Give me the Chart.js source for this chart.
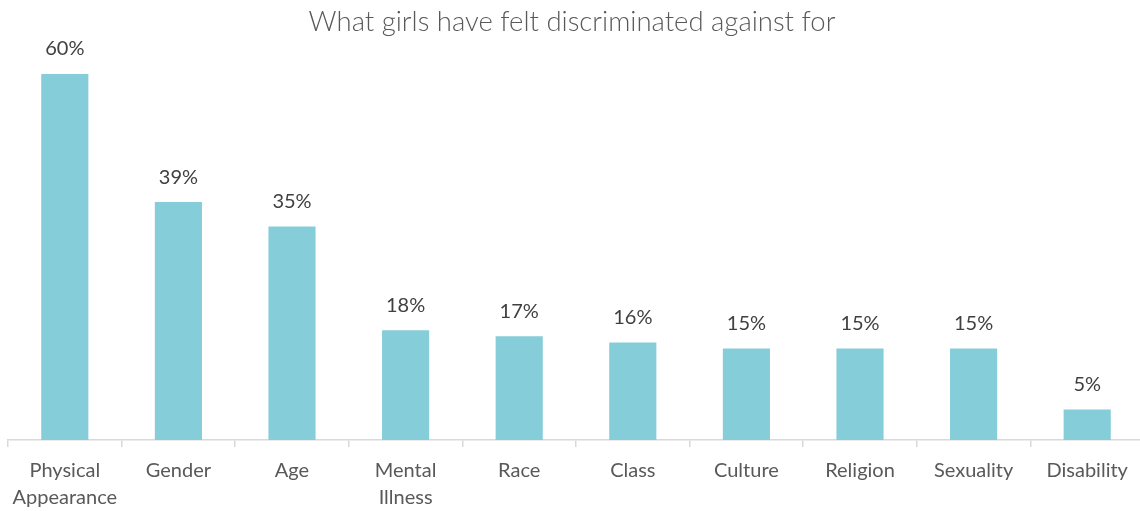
<!DOCTYPE html>
<html>
<head>
<meta charset="utf-8">
<script src="https://cdn.jsdelivr.net/npm/chart.js@4/dist/chart.umd.min.js"></script>
<style>
  html, body { margin: 0; padding: 0; background: #ffffff; overflow: hidden; }
  #wrap { width: 1140px; height: 511px; position: relative; overflow: hidden; }
</style>
</head>
<body>
<div id="wrap"><canvas id="c" width="1144" height="511"></canvas></div>
<script>
const chartTitle = 'What girls have felt discriminated against for';
const categories = [
  ['Physical', 'Appearance'], 'Gender', 'Age', ['Mental', 'Illness'], 'Race',
  'Class', 'Culture', 'Religion', 'Sexuality', 'Disability'
];
const percentages = [60, 39, 35, 18, 17, 16, 15, 15, 15, 5];
const yAxisMax = 70;

const FONT = 'Lato, "Open Sans", "DejaVu Sans", sans-serif';

// Title and value labels drawn on the canvas
const annotate = {
  id: 'annotate',
  afterDatasetsDraw(chart) {
    const ctx = chart.ctx;
    ctx.save();
    ctx.fillStyle = '#404040';
    ctx.font = '20px ' + FONT;
    ctx.textAlign = 'center';
    ctx.textBaseline = 'middle';
    const meta = chart.getDatasetMeta(0);
    meta.data.forEach((bar, i) => {
      ctx.fillText(percentages[i] + '%', bar.x, bar.y - 25);
    });
    ctx.fillStyle = '#595959';
    ctx.font = '300 27.5px ' + FONT;
    ctx.fillText(chartTitle, 572, 22);
    ctx.restore();
  }
};

new Chart(document.getElementById('c'), {
  type: 'bar',
  data: {
    labels: categories,
    datasets: [{
      data: percentages,
      backgroundColor: '#86CDDA',
      borderWidth: 0,
      barPercentage: 0.415,
      categoryPercentage: 1.0
    }]
  },
  options: {
    responsive: false,
    animation: false,
    layout: { padding: { left: 8, right: 0, top: 13, bottom: 0 } },
    plugins: {
      legend: { display: false },
      title: { display: false },
      tooltip: { enabled: false }
    },
    scales: {
      x: {
        offset: true,
        afterFit(scale) { scale.height = 71; },
        grid: {
          display: true,
          offset: true,
          drawOnChartArea: false,
          drawTicks: true,
          tickLength: 7,
          color: '#d9d9d9',
          lineWidth: 1.5
        },
        border: { display: true, color: '#d9d9d9', width: 1.5 },
        ticks: {
          color: '#595959',
          font: { family: FONT, size: 20, lineHeight: 1.35 },
          padding: 10,
          maxRotation: 0,
          autoSkip: false
        }
      },
      y: {
        display: false,
        min: 0,
        max: yAxisMax
      }
    }
  },
  plugins: [annotate]
});
</script>
</body>
</html>
